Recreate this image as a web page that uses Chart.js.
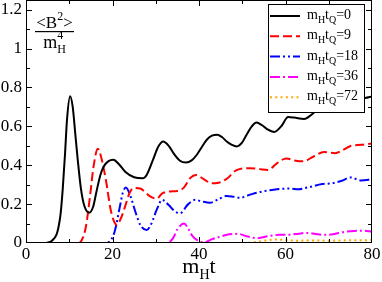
<!DOCTYPE html>
<html>
<head>
<meta charset="utf-8">
<script src="https://cdn.jsdelivr.net/npm/chart.js@4.4.0/dist/chart.umd.min.js"></script>
<style>
  html, body { margin: 0; padding: 0; background: #fff; }
  canvas { display: block; }
</style>
</head>
<body>
<canvas id="chart" width="382" height="282"></canvas>
<script>
// quench times m_H t_Q, one curve each
const quenchTimes = ['0', '9', '18', '36', '72'];

// [m_H t, <B^2>/m_H^4]
const seriesQ0 = [[0,0],[4,0],[5,0.002],[6,0.012],[7,0.04],[7.5,0.08],[8,0.15],[8.5,0.28],[9,0.45],[9.5,0.64],
  [10.2,0.755],[10.8,0.70],[11.4,0.56],[12,0.42],[12.7,0.28],[13.5,0.19],[14.6,0.156],[15.5,0.185],[16.3,0.265],
  [17.2,0.35],[18,0.395],[19,0.42],[20.2,0.428],[21.5,0.405],[23,0.365],[25,0.338],[27,0.333],[27.9,0.35],
  [29.4,0.43],[30.6,0.496],[31.7,0.522],[33,0.50],[34.1,0.462],[35.6,0.423],[37,0.414],[38.3,0.425],[39.5,0.454],
  [40.7,0.495],[41.8,0.531],[43,0.552],[44.2,0.557],[45.3,0.545],[46.4,0.522],[47.6,0.505],[48.7,0.497],
  [49.9,0.515],[51,0.557],[52.2,0.60],[53.3,0.62],[54.5,0.607],[55.8,0.585],[57.4,0.571],[59,0.60],[60.6,0.648],
  [62,0.645],[64.3,0.638],[66,0.66],[68,0.70],[70,0.72],[72,0.705],[74,0.72],[76,0.74],[78.4,0.746],[80,0.754]];

const seriesQ9 = [[0,0],[12,0],[12.5,0.003],[13.2,0.03],[13.9,0.09],[14.8,0.24],[15.6,0.39],[16.6,0.485],
  [17.4,0.44],[18.5,0.32],[19.5,0.18],[20.2,0.12],[21,0.093],[22,0.13],[22.9,0.187],[24,0.26],[24.9,0.283],
  [26.4,0.28],[28.7,0.24],[30.2,0.228],[31.5,0.255],[33.3,0.265],[35,0.268],[36.5,0.285],[38,0.335],[39.3,0.35],
  [41,0.33],[42.9,0.307],[44.5,0.31],[46.4,0.33],[48.7,0.375],[51.8,0.385],[54,0.38],[56,0.376],[58,0.41],
  [60.2,0.435],[62,0.425],[64.1,0.42],[66.5,0.445],[68.9,0.468],[71.5,0.462],[73,0.475],[75.2,0.5],[77.5,0.505],
  [80,0.512]];

const seriesQ18 = [[0,0],[18.5,0],[19,0.003],[19.8,0.02],[20.6,0.067],[21.7,0.187],[22.4,0.26],[23.1,0.285],
  [24,0.25],[25.4,0.153],[26.5,0.09],[27.9,0.067],[29,0.1],[30.2,0.17],[31.5,0.222],[33,0.195],[34.3,0.165],
  [35.6,0.153],[37.5,0.2],[39.1,0.222],[40.5,0.215],[42.5,0.207],[44.5,0.225],[46.4,0.242],[48,0.238],
  [49.5,0.233],[52,0.25],[54,0.262],[56,0.27],[58.5,0.278],[61,0.28],[63,0.276],[65,0.285],[68.5,0.303],
  [71,0.308],[73,0.32],[75,0.337],[77.5,0.322],[80,0.328]];

const seriesQ36 = [[0,0],[32,0],[33,0.003],[34,0.025],[35,0.07],[36.5,0.1],[37.5,0.075],[38.5,0.035],[40,0.01],
  [41.5,0.005],[43,0.02],[45,0.033],[47,0.045],[49,0.047],[51,0.035],[53.5,0.025],[56,0.035],[58.5,0.042],
  [61,0.043],[63,0.048],[65,0.052],[67,0.046],[69,0.042],[71,0.045],[73.5,0.057],[76,0.062],[78,0.063],[80,0.058]];

const seriesQ72 = [[0,0],[50,0],[52,0.002],[54,0.008],[56,0.015],[58,0.018],[60,0.015],[63,0.012],[66,0.013],
  [70,0.012],[75,0.014],[80,0.015]];

const xTicks = [0, 20, 40, 60, 80];
const yTicks = [0, 0.2, 0.4, 0.6, 0.8, 1, 1.2];

const allSeries = [seriesQ0, seriesQ9, seriesQ18, seriesQ36, seriesQ72];
const lineColors = ['#000000', '#ff0000', '#0000ff', '#ff00ff', '#ffa500'];
const lineDashes = [[], [9, 4], [10, 3, 2, 3, 2, 3], [10, 3, 2, 3], [2, 3.3]];

const serif = "'Liberation Serif', 'Times New Roman', serif";

// draw a run of text pieces, some of them raised or lowered
function drawPieces(ctx, x, y, pieces) {
  let cx = x;
  pieces.forEach(p => {
    ctx.font = p.size + 'px ' + serif;
    ctx.fillText(p.t, cx, y + (p.dy || 0));
    if (!p.stack) cx += ctx.measureText(p.t).width;
  });
  return cx - x;
}

function piecesWidth(ctx, pieces) {
  let w = 0;
  pieces.forEach(p => {
    ctx.font = p.size + 'px ' + serif;
    if (!p.stack) w += ctx.measureText(p.t).width;
  });
  return w;
}

// box frame with inward ticks on all four sides
const frameTicks = {
  id: 'frameTicks',
  afterDatasetsDraw(chart) {
    const { ctx, chartArea: a, scales: { x, y } } = chart;
    ctx.save();
    ctx.strokeStyle = '#000';
    ctx.lineWidth = 1;
    ctx.beginPath();
    for (let v = 10; v < 80; v += 10) {
      const px = Math.round(x.getPixelForValue(v)) + 0.5;
      const len = v % 20 === 0 ? 6 : 4;
      ctx.moveTo(px, a.bottom); ctx.lineTo(px, a.bottom - len);
      ctx.moveTo(px, a.top); ctx.lineTo(px, a.top + len);
    }
    for (let i = 1; i <= 12; i++) {
      const py = Math.round(y.getPixelForValue(i / 10)) + 0.5;
      const len = i % 2 === 0 ? 6 : 4;
      ctx.moveTo(a.left, py); ctx.lineTo(a.left + len, py);
      ctx.moveTo(a.right, py); ctx.lineTo(a.right - len, py);
    }
    ctx.stroke();
    ctx.strokeRect(a.left + 0.5, a.top + 0.5, a.right - a.left - 1, a.bottom - a.top - 1);
    ctx.restore();
  }
};

// legend box sitting inside the plot, over the curves
const legendBox = {
  id: 'legendBox',
  afterDatasetsDraw(chart) {
    const { ctx, chartArea: a } = chart;
    const bx = a.right - 104, by = a.top + 4, bw = 96, bh = 108;
    ctx.save();
    ctx.fillStyle = '#fff';
    ctx.fillRect(bx, by, bw, bh);
    ctx.strokeStyle = '#000';
    ctx.lineWidth = 1;
    ctx.strokeRect(bx + 0.5, by + 0.5, bw, bh);
    chart.data.datasets.forEach((ds, i) => {
      const ly = by + 12 + i * 20.3;
      ctx.strokeStyle = ds.borderColor;
      ctx.lineWidth = 2;
      ctx.setLineDash(ds.borderDash);
      ctx.beginPath();
      ctx.moveTo(bx + 2, ly);
      ctx.lineTo(bx + 32, ly);
      ctx.stroke();
      ctx.setLineDash([]);
      ctx.fillStyle = '#000';
      ctx.textBaseline = 'alphabetic';
      drawPieces(ctx, bx + 39, ly + 3, [
        { t: 'm', size: 14 }, { t: 'H', size: 10, dy: 4 }, { t: 't', size: 14 },
        { t: 'Q', size: 10, dy: 4 }, { t: '=' + quenchTimes[i], size: 14 }
      ]);
    });
    ctx.restore();
  }
};

// axis titles: m_H t below, <B^2>/m_H^4 as a fraction in the corner
const axisTitles = {
  id: 'axisTitles',
  afterDraw(chart) {
    const { ctx, chartArea: a } = chart;
    ctx.save();
    ctx.fillStyle = '#000';
    ctx.textBaseline = 'alphabetic';
    const xt = [{ t: 'm', size: 22 }, { t: 'H', size: 14, dy: 6 }, { t: 't', size: 22 }];
    const cx = (a.left + a.right) / 2;
    drawPieces(ctx, cx - piecesWidth(ctx, xt) / 2, a.bottom + 30, xt);

    const fx = a.left + 28.5;
    const num = [{ t: '<B', size: 17 }, { t: '2', size: 12, dy: -8 }, { t: '>', size: 17 }];
    drawPieces(ctx, fx - piecesWidth(ctx, num) / 2, a.top + 28, num);
    ctx.fillRect(fx - 19.5, a.top + 31, 39, 1.2);
    const den = [{ t: 'm', size: 18 }, { t: '4', size: 12, dy: -9, stack: true }, { t: 'H', size: 12, dy: 5 }];
    drawPieces(ctx, fx - piecesWidth(ctx, den) / 2, a.top + 48, den);
    ctx.restore();
  }
};

const datasets = allSeries.map((s, i) => ({
  label: 'mHtQ=' + quenchTimes[i],
  data: s.map(([t, b]) => ({ x: t, y: b })),
  borderColor: lineColors[i],
  borderDash: lineDashes[i],
  borderWidth: 2,
  pointRadius: 0,
  fill: false,
  cubicInterpolationMode: 'monotone'
}));

new Chart(document.getElementById('chart').getContext('2d'), {
  type: 'line',
  data: { datasets },
  options: {
    responsive: false,
    animation: false,
    events: [],
    layout: { autoPadding: false, padding: { left: 0, right: 10, top: 0, bottom: 0 } },
    plugins: { legend: { display: false }, tooltip: { enabled: false } },
    scales: {
      x: {
        type: 'linear',
        min: 0,
        max: 80,
        grid: { display: false, drawTicks: false },
        border: { display: false },
        afterBuildTicks: s => { s.ticks = xTicks.map(v => ({ value: v })); },
        afterFit: s => { s.height = 39; s.paddingLeft = 0; s.paddingRight = 0; },
        ticks: { color: '#000', padding: 1, maxRotation: 0, font: { family: serif, size: 17 } }
      },
      y: {
        min: 0,
        max: 1.25,
        grid: { display: false, drawTicks: false },
        border: { display: false },
        afterBuildTicks: s => { s.ticks = yTicks.map(v => ({ value: v })); },
        afterFit: s => { s.width = 26; s.paddingTop = 0; s.paddingBottom = 0; },
        ticks: {
          color: '#000',
          padding: 4,
          font: { family: serif, size: 17 },
          callback: v => String(+v.toFixed(2))
        }
      }
    }
  },
  plugins: [frameTicks, legendBox, axisTitles]
});
</script>
</body>
</html>
